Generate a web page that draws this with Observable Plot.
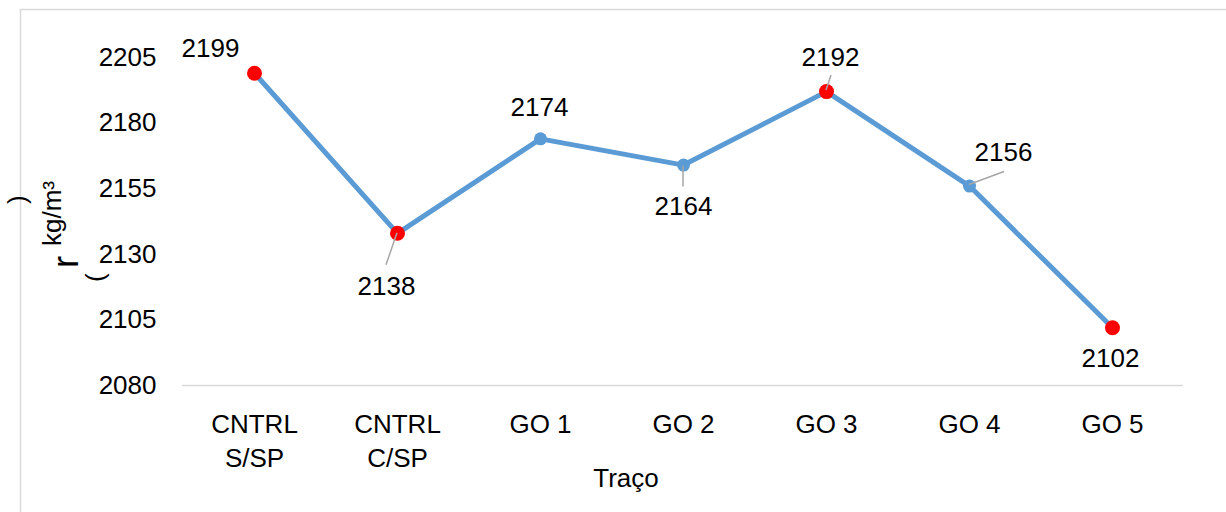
<!DOCTYPE html>
<html>
<head>
<meta charset="utf-8">
<script src="https://cdn.jsdelivr.net/npm/d3@7"></script>
<script src="https://cdn.jsdelivr.net/npm/@observablehq/plot@0.6"></script>
<style>
  html, body { margin: 0; padding: 0; background: #fff; }
  #chart svg { display: block; }
</style>
</head>
<body>
<div id="chart"></div>
<script>
// Density per mix (kg/m³)
const categories = ["CNTRL\nS/SP", "CNTRL\nC/SP", "GO 1", "GO 2", "GO 3", "GO 4", "GO 5"];
const densities = [2199, 2138, 2174, 2164, 2192, 2156, 2102];
const highlighted = [true, true, false, false, true, false, true];
const yTicks = [2080, 2105, 2130, 2155, 2180, 2205];

const data = categories.map((c, i) => ({ cat: c, value: densities[i], hi: highlighted[i] }));

// Label placement around each point (pixels): text offset and optional leader line
const labelLayout = [
  { dx: -44, dy: -25, leader: null },
  { dx: -11, dy: 53, leader: [0, 0, -11, 32] },
  { dx: -1, dy: -31, leader: null },
  { dx: 0, dy: 42, leader: [0, 1, 0, 22] },
  { dx: 4, dy: -34, leader: [0, -1, 5, -16] },
  { dx: 34, dy: -33, leader: [0, -1, 35, -14] },
  { dx: -2, dy: 31, leader: null }
];

const FONT = "'Liberation Sans', Arial, sans-serif";
const lineColor = "#5B9BD5";

const labelMarks = data.map((d, i) => Plot.text([d], {
  x: "cat", y: "value", text: d => String(d.value),
  dx: labelLayout[i].dx, dy: labelLayout[i].dy,
  fontSize: 26, fill: "#000"
}));

const plot = Plot.plot({
  width: 1226,
  height: 512,
  marginLeft: 182,
  marginRight: 43,
  marginTop: 57,
  marginBottom: 127,
  style: { fontFamily: FONT, background: "#fff", color: "#000" },
  x: { type: "point", domain: categories, padding: 0.5 },
  y: { domain: [2080, 2205] },
  marks: [
    Plot.ruleY([2080], { stroke: "#d9d9d9", strokeWidth: 1.5 }),
    Plot.axisY({ ticks: yTicks, tickSize: 0, tickPadding: 26, fontSize: 26, tickFormat: d => String(d), label: null }),
    Plot.axisX({ tickSize: 0, tickPadding: 23, fontSize: 26, lineHeight: 1.31, label: null }),
    Plot.line(data, { x: "cat", y: "value", stroke: lineColor, strokeWidth: 5, strokeLinejoin: "round" }),
    Plot.dot(data.filter(d => !d.hi), { x: "cat", y: "value", r: 6.5, fill: lineColor }),
    Plot.dot(data.filter(d => d.hi), { x: "cat", y: "value", r: 7.5, fill: "#FF0000" }),
    ...labelMarks
  ]
});

const svg = d3.select(plot);
const xs = plot.scale("x"), ys = plot.scale("y");

// Leader lines from points to their labels
data.forEach((d, i) => {
  const L = labelLayout[i].leader;
  if (!L) return;
  const px = xs.apply(d.cat), py = ys.apply(d.value);
  svg.append("line")
    .attr("x1", px + L[0]).attr("y1", py + L[1])
    .attr("x2", px + L[2]).attr("y2", py + L[3])
    .attr("stroke", "#a6a6a6").attr("stroke-width", 1.5);
});

// Chart area border
svg.insert("rect", ":first-child")
  .attr("x", 20.5).attr("y", 9.5).attr("width", 1400).attr("height", 700)
  .attr("fill", "none").attr("stroke", "#d9d9d9").attr("stroke-width", 1.5);

// X axis title
svg.append("text")
  .attr("x", 626).attr("y", 487).attr("text-anchor", "middle")
  .attr("font-size", 26).attr("fill", "#000").text("Traço");

// Y axis title pieces, rotated
const yTitle = svg.append("g").attr("fill", "#000").attr("text-anchor", "start");
function rotText(x, y, size, txt) {
  yTitle.append("text")
    .attr("transform", `translate(${x},${y}) rotate(-90)`)
    .attr("font-size", size).text(txt);
}
rotText(78, 268, 36, "r");
rotText(61, 246, 26, "kg/m³");
rotText(26, 204, 26, ")");
rotText(104, 282, 26, "(");

document.getElementById("chart").appendChild(plot);
</script>
</body>
</html>
